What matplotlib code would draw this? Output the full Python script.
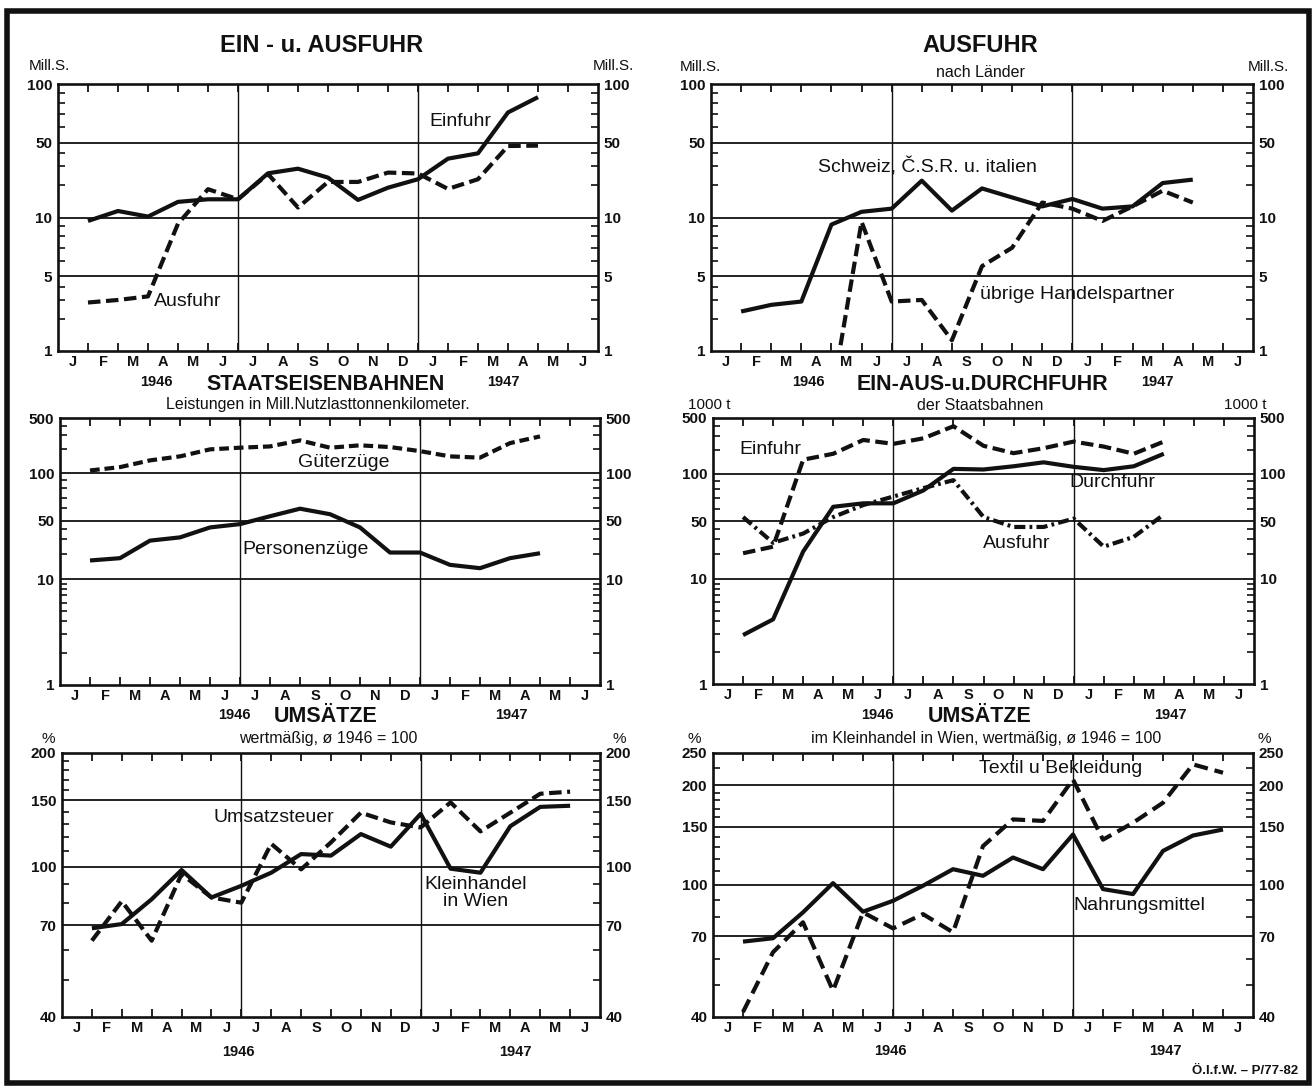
import numpy as np
import matplotlib
matplotlib.use('Agg')
import matplotlib.pyplot as plt
import matplotlib.font_manager as fm
from matplotlib.patches import Rectangle
from matplotlib.ticker import FixedLocator, NullFormatter

names = {f.name for f in fm.fontManager.ttflist}
NARROW = 'Liberation Sans Narrow' if 'Liberation Sans Narrow' in names else 'Liberation Sans'
plt.rcParams['font.family'] = [NARROW, 'DejaVu Sans']
plt.rcParams['lines.scale_dashes'] = False

nan = np.nan
months = ['J', 'F', 'M', 'A', 'M', 'J', 'J', 'A', 'S', 'O', 'N', 'D',
          'J', 'F', 'M', 'A', 'M', 'J']

# EIN- u. AUSFUHR (Mill. S), Jan 1946 ..
einfuhr = [9.6, 11.5, 10.2, 14.0, 14.8, 14.8, 25.9, 28.6, 23.6, 14.6, 19.0, 22.8, 35.5, 39.8, 71.5, 85.6]
ausfuhr = [2.84, 3.0, 3.24, 9.3, 18.4, 14.8, 25.5, 12.4, 21.5, 21.5, 26.3, 25.8, 18.5, 22.8, 46.6, 47.0]

# AUSFUHR nach Länder
schweiz_csr_italien = [2.34, 2.7, 2.9, 9.2, 11.3, 12.1, 22.1, 11.6, 18.7, 15.4, 12.7, 14.9, 12.1, 12.7, 21.0, 22.6]
uebrige = [nan, nan, nan, 0.44, 9.5, 2.9, 3.0, 1.26, 5.63, 7.0, 13.8, 12.1, 9.6, 12.7, 17.8, 13.8]

# STAATSEISENBAHNEN, Mill. Nutzlasttonnenkilometer
gueterzuege = [108, 119, 145, 163, 200, 210, 218, 260, 210, 225, 214, 190, 163, 157, 240, 292]
personenzuege = [16.7, 17.8, 28.9, 31.6, 41.6, 45.6, 53.4, 59.6, 55.0, 41.6, 20.8, 20.8, 14.8, 13.5, 17.8, 20.4]

# EIN-AUS-u.DURCHFUHR der Staatsbahnen (1000 t)
bahn_einfuhr = [20.4, 24.5, 150, 178, 265, 237, 278, 394, 224, 181, 209, 253, 219, 178, 253]
bahn_durchfuhr = [2.92, 4.12, 21.4, 61.6, 64.8, 64.8, 78.3, 115, 113, 124, 139, 122, 111, 124, 178]
bahn_ausfuhr = [53, 27.3, 35.3, 53, 63.2, 71.6, 81, 91, 53, 42.4, 42.4, 51.8, 24.5, 32.2, 55]

# UMSÄTZE, wertmäßig, 1946 = 100
kleinhandel = [68.7, 70.5, 82, 98, 82.9, 89, 96.4, 108, 107, 122, 113, 138, 98.8, 96.4, 128, 144, 145]
umsatzsteuer = [63.7, 81, 63.7, 95.6, 82.9, 80.3, 115, 98.4, 116, 139, 131, 127, 148, 124, 139, 156, 158]

# UMSÄTZE im Kleinhandel in Wien
nahrungsmittel = [67.5, 69.1, 82.7, 101.3, 83.1, 89.6, 99.5, 111.6, 106.6, 121, 111.6, 142, 97.2, 93.9, 126.7, 141, 147]
textil = [41.4, 62.7, 77.2, 48, 82.7, 74, 81.7, 72, 131, 157.7, 156, 208, 137, 154, 177, 231, 218]

W, H = 1314, 1086
fig = plt.figure(figsize=(W / 100, H / 100), dpi=100)
fig.patch.set_facecolor('white')
INK = '#111111'


def rect(x0, x1, y0, y1):
    return [x0 / W, 1 - y1 / H, (x1 - x0) / W, (y1 - y0) / H]


def ftext(x, y, s, **kw):
    kw.setdefault('ha', 'center')
    kw.setdefault('va', 'center')
    kw.setdefault('color', INK)
    fig.text(x / W, 1 - y / H, s, **kw)


def kink_scale(ax, vals, pos):
    # the printed chart's grid is not a clean log scale, so map log10 piecewise
    lv = np.log10([vals[0] / 10] + vals + [vals[-1] * 10])
    pp = np.array([pos[0] - 1] + pos + [pos[-1] + 1])

    def fwd(v):
        v = np.clip(np.asarray(v, dtype=float), 1e-6, None)
        return np.interp(np.log10(v), lv, pp)

    def inv(p):
        return 10 ** np.interp(p, pp, lv)

    ax.set_yscale('function', functions=(fwd, inv))


def panel(r, ylim, yticks, minor, anchors=None):
    ax = fig.add_axes(r)
    if anchors:
        kink_scale(ax, *anchors)
    else:
        ax.set_yscale('log')
    ax.set_xlim(0, 18)
    ax.set_ylim(*ylim)
    ax.set_xticks(range(1, 18), [''] * 17)
    ax.set_xticks(np.arange(0.5, 18), months, minor=True)
    ax.set_yticks(yticks, [str(t) for t in yticks])
    ax.yaxis.set_minor_locator(FixedLocator(minor))
    ax.yaxis.set_minor_formatter(NullFormatter())
    ax.tick_params(axis='x', which='major', direction='in', top=True, bottom=True,
                   length=6, width=1.3, color=INK)
    ax.tick_params(axis='x', which='minor', length=0, pad=3, labelsize=10.5, labelcolor=INK)
    ax.tick_params(axis='y', which='major', length=0, pad=4, labelsize=11,
                   left=True, right=True, labelleft=True, labelright=True, labelcolor=INK)
    ax.tick_params(axis='y', which='minor', direction='in', length=5, width=1.2,
                   left=True, right=True, color=INK)
    for t in ax.xaxis.get_minor_ticks() + ax.yaxis.get_major_ticks():
        t.label1.set_fontweight('bold')
        t.label2.set_fontweight('bold')
    for s in ax.spines.values():
        s.set_linewidth(1.9)
        s.set_color(INK)
    for v in yticks[1:-1]:
        ax.axhline(v, color=INK, lw=1.3, zorder=1)
    ax.axvline(6, color=INK, lw=1.0, zorder=1)
    ax.axvline(12, color=INK, lw=1.0, zorder=1)
    return ax


def series(ax, vals, **kw):
    x = np.arange(1, len(vals) + 1)
    ax.plot(x, vals, color=INK, lw=3.0, solid_capstyle='butt', dash_capstyle='butt', zorder=3, **kw)


def note(ax, x, y, s, **kw):
    kw.setdefault('ha', 'center')
    ax.text(x, y, s, va='center', fontsize=14, color=INK, zorder=4, **kw)


minor12 = [2, 3, 4, 6, 7, 8, 9, 20, 30, 40, 60, 70, 80, 90]
minor34 = [2, 3, 4, 5, 6, 7, 8, 9, 20, 30, 40, 60, 70, 80, 90, 200, 300, 400]

# --- EIN- u. AUSFUHR
ax1 = panel(rect(58, 598, 84, 351), (1, 100), [1, 5, 10, 50, 100], minor12,
            ([1, 5, 10, 50, 100], [0, 0.56, 1, 1.56, 2]))
series(ax1, einfuhr)
series(ax1, ausfuhr, dashes=(9, 4))
note(ax1, 13.4, 64, 'Einfuhr')
note(ax1, 3.2, 2.9, 'Ausfuhr', ha='left')

# --- AUSFUHR nach Länder
ax2 = panel(rect(711, 1253, 84, 351), (1, 100), [1, 5, 10, 50, 100], minor12,
            ([1, 5, 10, 50, 100], [0, 0.56, 1, 1.56, 2]))
series(ax2, schweiz_csr_italien)
series(ax2, uebrige, dashes=(9, 4))
note(ax2, 7.2, 29.5, 'Schweiz, Č.S.R. u. italien')
note(ax2, 8.94, 3.35, 'übrige Handelspartner', ha='left')

# --- STAATSEISENBAHNEN
ax3 = panel(rect(60, 600, 418, 685), (1, 500), [1, 10, 50, 100, 500], minor34,
            ([1, 10, 50, 100, 500], [0, 1, 1.55, 2, 2.52]))
series(ax3, gueterzuege, dashes=(7, 3.5))
series(ax3, personenzuege)
note(ax3, 9.45, 138, 'Güterzüge')
note(ax3, 8.2, 22.4, 'Personenzüge')

# --- EIN-AUS-u.DURCHFUHR
ax4 = panel(rect(713, 1254, 418, 684), (1, 500), [1, 10, 50, 100, 500], minor34,
            ([1, 10, 50, 100, 500], [0, 1, 1.55, 2, 2.53]))
series(ax4, bahn_einfuhr, dashes=(9, 4))
series(ax4, bahn_durchfuhr)
series(ax4, bahn_ausfuhr, dashes=(8, 3, 2, 3))
note(ax4, 1.9, 200, 'Einfuhr')
note(ax4, 13.3, 87.4, 'Durchfuhr')
note(ax4, 10.1, 26.8, 'Ausfuhr')

# --- UMSÄTZE
ax5 = panel(rect(62, 600, 753, 1017), (40, 200), [40, 70, 100, 150, 200],
            [50, 60, 80, 90, 110, 120, 130, 140, 160, 170, 180, 190])
series(ax5, kleinhandel)
series(ax5, umsatzsteuer, dashes=(9, 4))
note(ax5, 7.1, 135, 'Umsatzsteuer')
note(ax5, 13.85, 85, 'Kleinhandel\nin Wien', linespacing=1.0)

# --- UMSÄTZE im Kleinhandel in Wien
ax6 = panel(rect(713, 1253, 753, 1017), (40, 250), [40, 70, 100, 150, 200, 250],
            [50, 60, 80, 90, 110, 120, 130, 140, 160, 170, 180, 190, 225])
series(ax6, nahrungsmittel)
series(ax6, textil, dashes=(10, 5))
note(ax6, 11.6, 225, 'Textil u Bekleidung')
note(ax6, 14.2, 86.6, 'Nahrungsmittel')

# titles and units
big = dict(fontsize=17, fontweight='bold')
mid = dict(fontsize=15.5, fontweight='bold')
small = dict(fontsize=11.5)
unit = dict(fontsize=11)
yr = dict(fontsize=10.5, fontweight='bold')

ftext(322, 45, 'EIN - u. AUSFUHR', **big)
ftext(49, 66, 'Mill.S.', **unit)
ftext(613, 66, 'Mill.S.', **unit)

ftext(980, 46, 'AUSFUHR', **big)
ftext(980, 72, 'nach Länder', **small)
ftext(700, 67, 'Mill.S.', **unit)
ftext(1268, 67, 'Mill.S.', **unit)

ftext(156, 382, '1946', **yr)
ftext(326, 384, 'STAATSEISENBAHNEN', **mid)
ftext(503, 382, '1947', **yr)
ftext(318, 405, 'Leistungen in Mill.Nutzlasttonnenkilometer.', **small)

ftext(808, 382, '1946', **yr)
ftext(982, 384, 'EIN-AUS-u.DURCHFUHR', **mid)
ftext(1157, 382, '1947', **yr)
ftext(709, 405, '1000 t', **unit)
ftext(1245, 405, '1000 t', **unit)
ftext(980, 405, 'der Staatsbahnen', **small)

ftext(234, 715, '1946', **yr)
ftext(326, 717, 'UMSÄTZE', **mid)
ftext(511, 715, '1947', **yr)
ftext(48, 739, '%', **unit)
ftext(619, 739, '%', **unit)
ftext(328, 739, 'wertmäßig, ø 1946 = 100', **small)

ftext(877, 715, '1946', **yr)
ftext(980, 717, 'UMSÄTZE', **mid)
ftext(1170, 715, '1947', **yr)
ftext(694, 739, '%', **unit)
ftext(1264, 739, '%', **unit)
ftext(986, 739, 'im Kleinhandel in Wien, wertmäßig, ø 1946 = 100', **small)

ftext(238, 1052, '1946', **yr)
ftext(515, 1052, '1947', **yr)
ftext(890, 1051, '1946', **yr)
ftext(1165, 1051, '1947', **yr)

ftext(1298, 1071, 'Ö.I.f.W. – P/77-82', fontsize=9.5, fontweight='bold', ha='right')

fig.add_artist(Rectangle((7 / W, 1 - 1083 / H), (1309 - 7) / W, (1083 - 11) / H,
                         transform=fig.transFigure, fill=False, lw=4, edgecolor=INK))

fig.savefig('out.png', dpi=100, facecolor='white')
